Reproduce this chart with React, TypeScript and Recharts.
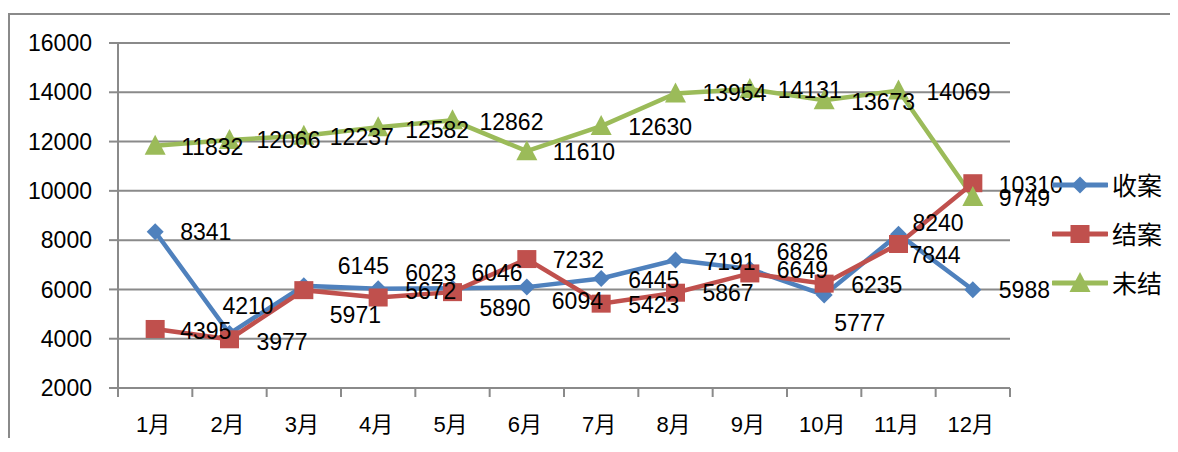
import { LineChart, Line, XAxis, YAxis, CartesianGrid, Legend, LabelList } from "recharts";

const months = ["1月", "2月", "3月", "4月", "5月", "6月", "7月", "8月", "9月", "10月", "11月", "12月"];
const received = [8341, 4210, 6145, 6023, 6046, 6094, 6445, 7191, 6826, 5777, 8240, 5988];
const closed = [4395, 3977, 5971, 5672, 5890, 7232, 5423, 5867, 6649, 6235, 7844, 10310];
const pending = [11832, 12066, 12237, 12582, 12862, 11610, 12630, 13954, 14131, 13673, 14069, 9749];
const yTicks = [2000, 4000, 6000, 8000, 10000, 12000, 14000, 16000];

// label nudges [dx, dy] relative to each point, as placed in the source chart
const receivedNudge = [[25, 0], [-7, -28], [34, -20], [27, -16], [19, -15], [25, 14], [27, 2], [29, 2], [27, -17], [10, 28], [14, -11], [26, 0]];
const closedNudge = [[25, 2], [27, 3], [26, 25], [27, -7], [27, 16], [26, 1], [27, 1], [27, 0], [27, -3], [27, 1], [11, 11], [26, 2]];
const pendingNudge = [[26, 1], [27, 0], [26, 1], [27, 3], [27, 2], [26, 1], [27, 1], [27, 0], [28, 1], [27, 2], [28, 1], [26, 1]];

const BLUE = "#4F81BD";
const RED = "#C0504D";
const GREEN = "#9BBB59";
const GRID = "#8a8a8a";
const NUM_FONT = "'Liberation Sans', Arial, sans-serif";
const CJK_FONT = "'Liberation Sans', 'Noto Sans CJK SC', sans-serif";

const W = 1162;
const H = 430;
const LEGEND_W = 118;
// legend width is taken off the plot too, so right edge = margin + legend
const M = { top: 35, right: 160 - LEGEND_W, left: 0, bottom: 0 };
const Y_W = 110;
const X_H = 50;
const PLOT_W = W - 160 - Y_W;
const HALF = PLOT_W / months.length / 2;

const data = months.map((m, i) => ({ month: m, received: received[i], closed: closed[i], pending: pending[i] }));

type Shape = "diamond" | "square" | "triangle";

function Marker({ cx, cy, shape, color }: { cx: number; cy: number; shape: Shape; color: string }) {
  if (cx == null || cy == null) return null;
  if (shape === "diamond") {
    const r = 8.5;
    return <polygon points={`${cx},${cy - r} ${cx + r},${cy} ${cx},${cy + r} ${cx - r},${cy}`} fill={color} />;
  }
  if (shape === "square") {
    return <rect x={cx - 9.5} y={cy - 9} width={19} height={18} fill={color} />;
  }
  return <polygon points={`${cx},${cy - 11} ${cx + 10.5},${cy + 9} ${cx - 10.5},${cy + 9}`} fill={color} />;
}

function makeDot(shape: Shape, color: string) {
  return (p: any) => <Marker key={`${shape}-${p.index}`} cx={p.cx} cy={p.cy} shape={shape} color={color} />;
}

function makeLabel(nudge: number[][]) {
  return (p: any) => {
    const n = nudge[p.index] || [26, 0];
    return (
      <text
        x={Number(p.x) + n[0]}
        y={Number(p.y) + n[1]}
        dominantBaseline="central"
        textAnchor="start"
        fontSize={23}
        fontFamily={NUM_FONT}
        fill="#000"
      >
        {p.value}
      </text>
    );
  };
}

function MonthTick(p: any) {
  const { x, y, payload, index } = p;
  return (
    <g>
      <line x1={x - HALF} x2={x - HALF} y1={y} y2={y + 9} stroke={GRID} strokeWidth={2} />
      {index === months.length - 1 && <line x1={x + HALF} x2={x + HALF} y1={y} y2={y + 9} stroke={GRID} strokeWidth={2} />}
      <text x={x - 2} y={y + 36} textAnchor="middle" dominantBaseline="central" fontSize={22} fontFamily={CJK_FONT} fill="#000">
        {payload.value}
      </text>
    </g>
  );
}

const legendItems: { name: string; color: string; shape: Shape }[] = [
  { name: "收案", color: BLUE, shape: "diamond" },
  { name: "结案", color: RED, shape: "square" },
  { name: "未结", color: GREEN, shape: "triangle" },
];

function LegendBox() {
  return (
    <div>
      {legendItems.map((it) => (
        <div key={it.name} style={{ display: "flex", alignItems: "center", height: 49 }}>
          <svg width={56} height={24}>
            <line x1={1} x2={55} y1={12} y2={12} stroke={it.color} strokeWidth={5} strokeLinecap="round" />
            <Marker cx={28} cy={12} shape={it.shape} color={it.color} />
          </svg>
          <span style={{ marginLeft: 4, fontSize: 25, fontFamily: "'Noto Sans CJK SC', sans-serif", lineHeight: 1, color: "#000" }}>
            {it.name}
          </span>
        </div>
      ))}
    </div>
  );
}

export default function App() {
  return (
    <div style={{ position: "relative", width: 1170, height: H, overflow: "hidden" }}>
      <div
        style={{
          position: "absolute",
          left: 0,
          top: 5,
          width: 1200,
          height: H,
          border: `2px solid ${GRID}`,
          boxSizing: "border-box",
          pointerEvents: "none",
        }}
      />
      <LineChart width={W} height={H} data={data} margin={M}>
        <CartesianGrid vertical={false} stroke={GRID} strokeWidth={2} />
        <XAxis
          dataKey="month"
          height={X_H}
          padding={{ left: HALF, right: HALF }}
          axisLine={{ stroke: GRID, strokeWidth: 2 }}
          tickLine={false}
          tickSize={0}
          tickMargin={0}
          tick={<MonthTick />}
          interval={0}
        />
        <YAxis
          width={Y_W}
          domain={[2000, 16000]}
          ticks={yTicks}
          interval={0}
          axisLine={{ stroke: GRID, strokeWidth: 2 }}
          tickLine={{ stroke: GRID, strokeWidth: 2 }}
          tickSize={9}
          tickMargin={17}
          tick={{ fontSize: 23, fontFamily: NUM_FONT, fill: "#000" }}
        />
        <Legend
          layout="vertical"
          verticalAlign="middle"
          align="right"
          content={() => <LegendBox />}
          wrapperStyle={{ left: 1044, top: 152, width: LEGEND_W }}
        />
        <Line
          type="linear"
          dataKey="received"
          name="收案"
          stroke={BLUE}
          strokeWidth={4.5}
          dot={makeDot("diamond", BLUE)}
          activeDot={false}
          isAnimationActive={false}
        >
          <LabelList dataKey="received" content={makeLabel(receivedNudge)} />
        </Line>
        <Line
          type="linear"
          dataKey="closed"
          name="结案"
          stroke={RED}
          strokeWidth={4.5}
          dot={makeDot("square", RED)}
          activeDot={false}
          isAnimationActive={false}
        >
          <LabelList dataKey="closed" content={makeLabel(closedNudge)} />
        </Line>
        <Line
          type="linear"
          dataKey="pending"
          name="未结"
          stroke={GREEN}
          strokeWidth={4.5}
          dot={makeDot("triangle", GREEN)}
          activeDot={false}
          isAnimationActive={false}
        >
          <LabelList dataKey="pending" content={makeLabel(pendingNudge)} />
        </Line>
      </LineChart>
    </div>
  );
}
